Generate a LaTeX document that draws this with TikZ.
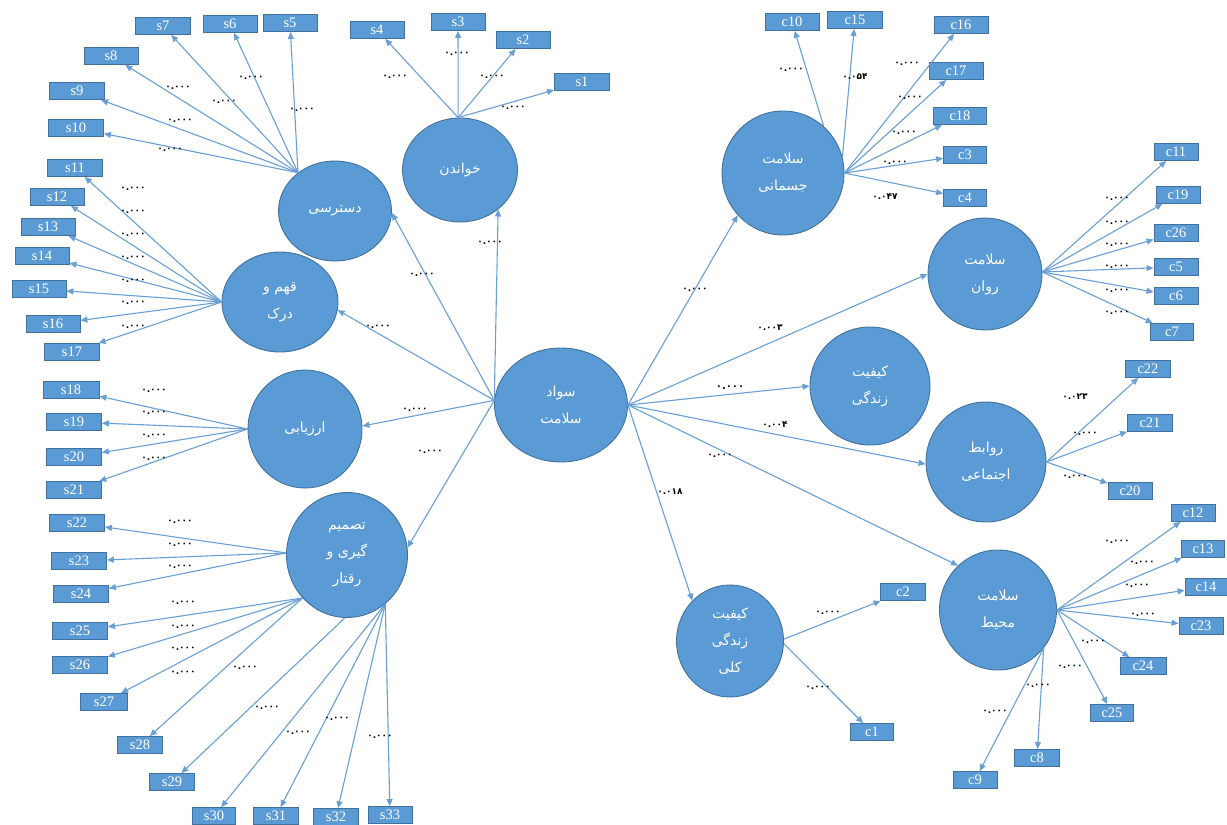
\documentclass[tikz,border=0pt]{standalone}
\usepackage{fontspec}
\setmainfont{Liberation Serif}
\newfontfamily\arabicfont[Script=Arabic]{DejaVu Sans}
\TeXXeTstate=1
\usetikzlibrary{shapes.geometric,arrows.meta}
\definecolor{fillb}{HTML}{5B9BD5}
\definecolor{edgeb}{HTML}{41719C}
\definecolor{lineb}{HTML}{6A9FD6}
\newcommand\fa[1]{\beginR#1\endR}
\begin{document}
\begin{tikzpicture}[x=1pt,y=-1pt,
 lat/.style={ellipse, fill=fillb, draw=edgeb, line width=0.9pt, inner sep=0pt, text=white, align=center, font=\arabicfont\fontsize{14}{27}\selectfont},
 ind/.style={rectangle, fill=fillb, draw=edgeb, line width=0.8pt, minimum height=17pt, inner sep=0pt, text=white, font=\fontsize{14.5}{14.5}\selectfont},
 arr/.style={draw=lineb, line width=1.1pt, -{Triangle[length=7pt,width=6pt]}},
 lab/.style={font=\arabicfont\bfseries\fontsize{9}{9}\selectfont, inner sep=0pt},
]
\fill[white] (0,0) rectangle (1227,825);
\useasboundingbox (0,0) rectangle (1227,825);

% latent circles
\node[lat, minimum width=133pt, minimum height=114pt] (S) at (561,405) {\fa{سواد}\\\fa{سلامت}};
\node[lat, minimum width=115pt, minimum height=104pt] (R) at (460,170) {\fa{خواندن}};
\node[lat, minimum width=113pt, minimum height=100pt] (D) at (335,211) {\fa{دسترسی}};
\node[lat, minimum width=116pt, minimum height=100pt] (Q) at (280,302) {\fa{قهم و}\\\fa{درک}};
\node[lat, minimum width=114pt, minimum height=118pt] (A) at (305,429) {\fa{ارزیابی}};
\node[lat, minimum width=121pt, minimum height=125pt] (T) at (347,555) {\fa{تصمیم}\\\fa{گیری و}\\\fa{رقتار}};
\node[lat, minimum width=122pt, minimum height=124pt] (J) at (783,173) {\fa{سلامت}\\\fa{جسمانی}};
\node[lat, minimum width=114pt, minimum height=112pt] (V) at (985,274) {\fa{سلامت}\\\fa{روان}};
\node[lat, minimum width=120pt, minimum height=118pt] (Z) at (870,386) {\fa{کیفیت}\\\fa{زندگی}};
\node[lat, minimum width=120pt, minimum height=120pt] (E) at (986,462) {\fa{روابط}\\\fa{اجتماعی}};
\node[lat, minimum width=117pt, minimum height=120pt] (M) at (998,610) {\fa{سلامت}\\\fa{محیط}};
\node[lat, minimum width=107pt, minimum height=112pt] (K) at (730,641) {\fa{کیفیت}\\\fa{زندگی}\\\fa{کلی}};

% indicator boxes
\foreach \n/\x/\y/\w in {
 s1/582/82/55, s2/523/40/54, s3/458/22/54, s4/377/30/54,
 s5/290/23/54, s6/230/24/54, s7/163/26/55, s8/111/56/54, s9/77/91/55, s10/76/128/55,
 s11/75/168/55, s12/57/197/54, s13/48/227/54, s14/42/256/54, s15/39/289/54, s16/53/324/54, s17/72/352/55,
 s18/71/390/56, s19/74/422/55, s20/74/457/55, s21/74/490/55,
 s22/77/523/55, s23/79/561/55, s24/81/594/55, s25/80/631/55, s26/80/665/55, s27/104/702/47,
 s28/140/745/45, s29/172/782/45, s30/214/816/43, s31/276/816/45, s32/336/817/45, s33/390/815/44,
 c10/792/22/54, c15/855/20/55, c16/961/25/54, c17/956/71/54, c18/960/116/53, c3/965/155/43, c4/965/198/43,
 c11/1176/152/44, c19/1178/195/44, c26/1176/233/44, c5/1176/267/44, c6/1176/296/44, c7/1172/332/43,
 c22/1148/369/45, c21/1150/423/45, c20/1130/491/44,
 c12/1193/513/44, c13/1203/549/43, c14/1206/587/42, c23/1201/626/44, c24/1143/666/46, c25/1112/713/43,
 c8/1037/758/45, c9/975/780/44, c2/903/592/45, c1/872/732/43}
 \node[ind, minimum width=\w pt] (\n) at (\x,\y) {\n};

% main arrows
\draw[arr] (S.176) -- (R.-46);
\draw[arr] (S.176) -- (D.-2);
\draw[arr] (S.176) -- (Q.-8);
\draw[arr] (S.176) -- (A.3);
\draw[arr] (S.176) -- (T.7);
\draw[arr] (S.0) -- (J.223);
\draw[arr] (S.0) -- (V.180);
\draw[arr] (S.0) -- (Z.180);
\draw[arr] (S.0) -- (E.182);
\draw[arr] (S.0) -- (M.132);
\draw[arr] (S.0) -- (K.133);

% indicator arrows
\foreach \n in {s1,s2,s3,s4} \draw[arr] (R.92) -- (\n);
\foreach \n in {s5,s6,s7,s8,s9,s10} \draw[arr] (D.134) -- (\n);
\foreach \n in {s11,s12,s13,s14,s15,s16,s17} \draw[arr] (Q.180) -- (\n);
\foreach \n in {s18,s19,s20,s21} \draw[arr] (A.180) -- (\n);
\foreach \n in {s22,s23,s24} \draw[arr] (T.178) -- (\n);
\foreach \n in {s25,s26,s27,s28} \draw[arr] (T.224) -- (\n);
\draw[arr] (T.268) -- (s29);
\foreach \n in {s30,s31,s32,s33} \draw[arr] (T.308) -- (\n);
\draw[arr] (J.49) -- (c10);
\draw[arr] (J.15) -- (c15);
\foreach \n in {c16,c17,c18,c3,c4} \draw[arr] (J.0) -- (\n);
\foreach \n in {c11,c19,c26,c5,c6,c7} \draw[arr] (V.2) -- (\n);
\foreach \n in {c22,c21,c20} \draw[arr] (E.0) -- (\n);
\foreach \n in {c12,c13,c14,c23,c24,c25} \draw[arr] (M.0) -- (\n);
\foreach \n in {c8,c9} \draw[arr] (M.320) -- (\n);
\draw[arr] (K.2) -- (c2);
\draw[arr] (K.-3) -- (c1);

% coefficient labels
\foreach \x/\y [count=\i] in {
 395/77, 457/54, 492/77, 513/108,
 302/110, 251/78, 224/102, 178/88, 180/121, 170/150,
 133/189, 133/212, 133/235, 133/258, 133/281, 133/303, 133/327,
 154/391, 154/413, 154/436, 154/459,
 180/522, 180/545, 180/567, 183/603, 183/627, 183/649, 183/673, 245/668, 267/708, 298/733, 337/719, 380/737,
 490/243, 422/275, 378/327, 415/410, 430/452, 695/290, 720/456,
 791/70, 907/64, 910/98, 904/133, 895/163,
 1117/199, 1117/223, 1117/245, 1117/267, 1117/291, 1117/313,
 1085/434, 1075/477,
 1117/542, 1142/563, 1137/586, 1143/615, 1093/642, 1070/667, 1038/686, 995/712,
 828/613, 818/688}
 \node[lab] (lb\i) at (\x,\y) {۰.۰۰۰};
\node[lab] (lbA) at (855,77) {۰.۰۵۴};
\node[lab] (lbB) at (885,197) {۰.۰۴۷};
\node[lab] (lbC) at (770,328) {۰.۰۰۳};
\node[lab, font=\arabicfont\bfseries\fontsize{10}{10}\selectfont] (lbD) at (730,388) {۰.۰۰۰};
\node[lab] (lbE) at (775,425) {۰.۰۰۴};
\node[lab] (lbF) at (1075,397) {۰.۰۲۳};
\node[lab] (lbG) at (670,492) {۰.۰۱۸};
\end{tikzpicture}
\end{document}
